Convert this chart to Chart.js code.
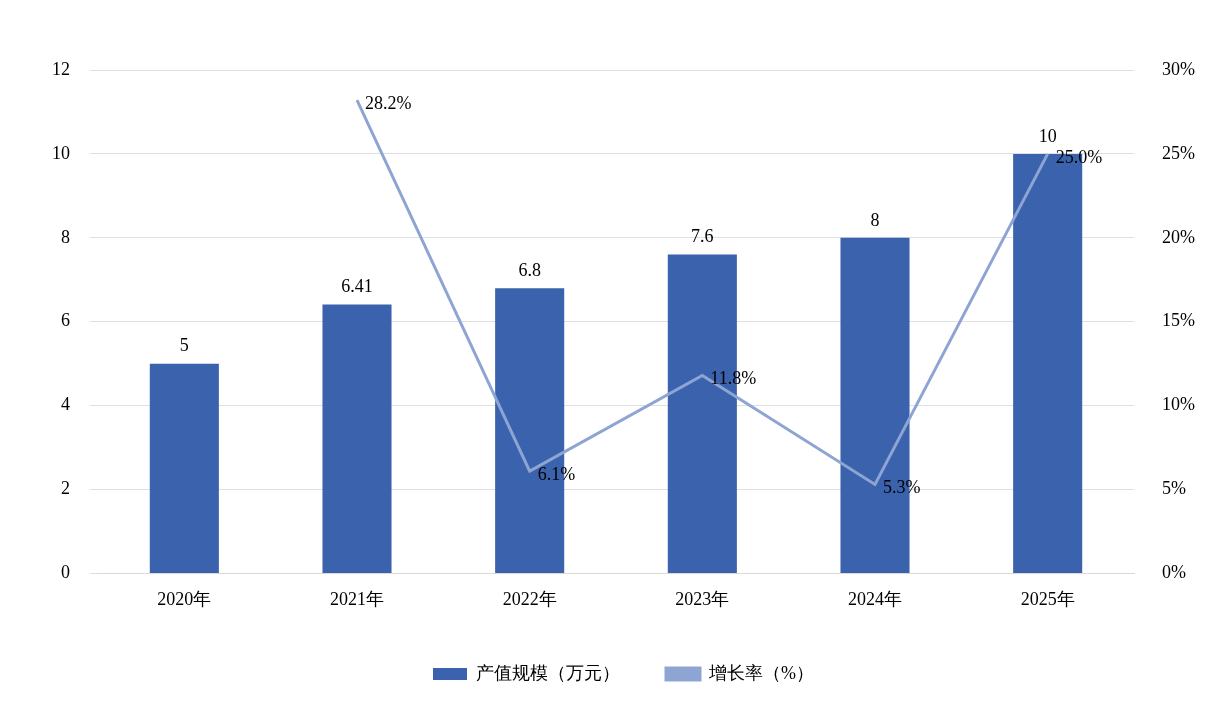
<!DOCTYPE html>
<html><head><meta charset="utf-8">
<script src="https://cdn.jsdelivr.net/npm/chart.js@4"></script>
<style>html,body{margin:0;background:#fff}#w{width:1226px;height:713px}</style>
</head><body><div id="w"><canvas id="c"></canvas></div>
<script>
const categories=['2020年','2021年','2022年','2023年','2024年','2025年'];
const outputValues=[5,6.41,6.8,7.6,8,10];
const growthRates=[null,28.2,6.1,11.8,5.3,25.0];
const F='"Liberation Serif","Times New Roman",serif';
const labelPlugin={id:'lbl',afterDatasetsDraw(ch){const c=ch.ctx;c.save();c.font='18px '+F;c.fillStyle='#000';
 ch.getDatasetMeta(0).data.forEach((b,i)=>{c.textAlign='center';c.textBaseline='bottom';c.fillText(String(outputValues[i]),b.x,b.y-8);});
 ch.getDatasetMeta(1).data.forEach((p,i)=>{if(growthRates[i]==null)return;c.textAlign='left';c.textBaseline='middle';c.fillText(growthRates[i].toFixed(1)+'%',p.x+8,p.y+4);});
 c.restore();}};
new Chart(document.getElementById('c'),{
 data:{labels:categories,datasets:[
  {type:'bar',label:'产值规模（万元）',data:outputValues,backgroundColor:'#3A62AD',yAxisID:'y',barPercentage:0.4,categoryPercentage:1,order:2},
  {type:'line',label:'增长率（%）',data:growthRates,borderColor:'#8EA5D3',backgroundColor:'#8EA5D3',borderWidth:3,pointRadius:0,yAxisID:'y1',order:1,spanGaps:false}
 ]},
 options:{responsive:true,maintainAspectRatio:false,animation:false,
  layout:{padding:{left:32,right:11,top:70,bottom:20}},
  plugins:{tooltip:{enabled:false},legend:{position:'bottom',labels:{font:{family:F,size:18},color:'#000',boxWidth:34,boxHeight:12,padding:46,
   generateLabels(ch){return ch.data.datasets.map((d,i)=>({text:d.label,fillStyle:i==0?'#3A62AD':'#8EA5D3',strokeStyle:i==0?'#3A62AD':'#8EA5D3',lineWidth:i==0?0:3,datasetIndex:i,pointStyle:i==0?'rect':'line'}));}}}},
  scales:{
   x:{grid:{display:false},border:{color:'#d9d9d9'},ticks:{font:{family:F,size:18},color:'#000',padding:8}},
   y:{min:0,max:12,ticks:{stepSize:2,font:{family:F,size:18},color:'#000',padding:20},grid:{color:'#e0e0e0'},border:{display:false}},
   y1:{position:'right',min:0,max:30,ticks:{stepSize:5,callback:v=>v+'%',font:{family:F,size:18},color:'#000',padding:20},grid:{display:false},border:{display:false}}
  }},
 plugins:[labelPlugin]});
</script></body></html>
